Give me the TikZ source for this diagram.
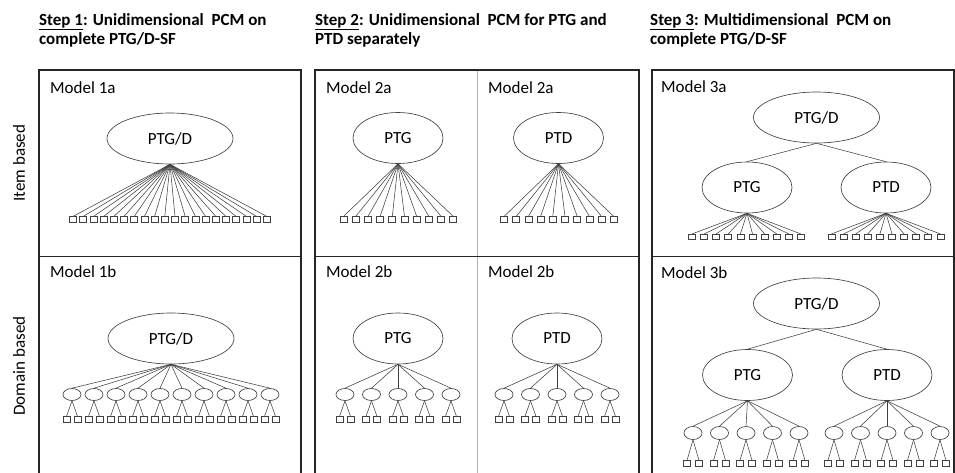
\documentclass[tikz,border=0pt]{standalone}
\usepackage{fontspec}
\setmainfont{Carlito}
\usetikzlibrary{shapes.geometric}
\newcommand\stepul[1]{\setbox0\hbox{#1}\rlap{\rule[-4.5pt]{\wd0}{1.2pt}}\box0}
\tikzset{
  frame/.style={draw=black!85, line width=1.4pt},
  divider/.style={draw=black!30, line width=0.8pt},
  big/.style={ellipse, draw=black!75, line width=0.65pt, inner sep=0pt, minimum width=126pt, minimum height=51pt, font=\fontsize{17}{20}\selectfont},
  mid/.style={big, minimum width=90pt},
  small/.style={ellipse, draw=black!75, line width=0.65pt, inner sep=0pt, minimum width=18pt, minimum height=12pt},
  item/.style={rectangle, draw=black!75, line width=0.65pt, inner sep=0pt, minimum width=7pt, minimum height=5.5pt},
  link/.style={draw=black!75, line width=0.55pt},
  header/.style={anchor=base west, align=left, inner sep=0pt, font=\fontsize{17}{18.7}\selectfont\bfseries},
  modellabel/.style={anchor=base west, inner sep=0pt, font=\fontsize{17}{20}\selectfont},
  rowlabel/.style={rotate=90, inner sep=0pt, font=\fontsize{17}{20}\selectfont},
}
\begin{document}
\begin{tikzpicture}[x=1pt,y=-1pt]
\useasboundingbox (0,0) rectangle (955,472);
% frames
\draw[divider] (477,70) -- (477,474);
\draw[frame] (39,474) -- (39,70) -- (301,70) -- (301,474);
\draw[frame] (39,256.5) -- (301,256.5);
\draw[frame] (315,474) -- (315,70) -- (639,70) -- (639,474);
\draw[frame] (315,256.5) -- (639,256.5);
\draw[frame] (652,474) -- (652,70) -- (954,70) -- (954,474);
\draw[frame] (652,256.5) -- (954,256.5);
% headers (base = baseline of the last line)
\node[header] (h1) at (39,44) {\stepul{Step 1}: Unidimensional\ \ PCM on\\complete PTG/D-SF};
\node[header] (h2) at (315,44) {\stepul{Step 2}: Unidimensional\ \ PCM for PTG and\\PTD separately};
\node[header] (h3) at (650,44) {\stepul{Step 3}: Multidimensional\ \ PCM on\\complete PTG/D-SF};
% row labels
\node[rowlabel] (r1) at (19,163) {Item based};
\node[rowlabel] (r2) at (19,366) {Domain based};
% model labels
\node[modellabel] (m1a) at (50,93) {Model 1a};
\node[modellabel] (m1b) at (50,277.5) {Model 1b};
\node[modellabel] (m2a) at (326,93) {Model 2a};
\node[modellabel] (m2a2) at (488,93) {Model 2a};
\node[modellabel] (m2b) at (326,277.5) {Model 2b};
\node[modellabel] (m2b2) at (488,277.5) {Model 2b};
\node[modellabel] (m3a) at (661,92.5) {Model 3a};
\node[modellabel] (m3b) at (661,278) {Model 3b};
% Model 1a
\node[big] (p1a) at (170,138.5) {PTG/D};
\foreach \i in {0,...,19} {
  \node[item] (i1a\i) at ({73+10.2*\i},219.5) {};
  \draw[link] (p1a.south) -- (i1a\i.north);
}
% Model 1b
\node[big] (p1b) at (171,338.5) {PTG/D};
\foreach \i in {0,...,9} {
  \node[small] (d1b\i) at ({72+22*\i},394.5) {};
  \node[item] (i1bl\i) at ({72+22*\i-5.5},419.5) {};
  \node[item] (i1br\i) at ({72+22*\i+5.5},419.5) {};
  \draw[link] (p1b.south) -- (d1b\i.north);
  \draw[link] (d1b\i.south) -- (i1bl\i.north);
  \draw[link] (d1b\i.south) -- (i1br\i.north);
}
% Model 2a
\node[mid] (g2a) at (398,138) {PTG};
\node[mid] (t2a) at (558.5,138) {PTD};
\foreach \i in {0,...,9} {
  \node[item] (ig2a\i) at ({343.5+12.2*\i},219.5) {};
  \node[item] (it2a\i) at ({504+12.2*\i},219.5) {};
  \draw[link] (g2a.south) -- (ig2a\i.north);
  \draw[link] (t2a.south) -- (it2a\i.north);
}
% Model 2b
\node[mid] (g2b) at (398,338.5) {PTG};
\node[mid] (t2b) at (557,338.5) {PTD};
\foreach \i in {0,...,4} {
  \node[small] (dg2b\i) at ({345+26.5*\i},394.5) {};
  \node[small] (dt2b\i) at ({504+26.5*\i},394.5) {};
  \node[item] (igl2b\i) at ({345+26.5*\i-5.5},419.5) {};
  \node[item] (igr2b\i) at ({345+26.5*\i+5.5},419.5) {};
  \node[item] (itl2b\i) at ({504+26.5*\i-5.5},419.5) {};
  \node[item] (itr2b\i) at ({504+26.5*\i+5.5},419.5) {};
  \draw[link] (g2b.south) -- (dg2b\i.north);
  \draw[link] (t2b.south) -- (dt2b\i.north);
  \draw[link] (dg2b\i.south) -- (igl2b\i.north);
  \draw[link] (dg2b\i.south) -- (igr2b\i.north);
  \draw[link] (dt2b\i.south) -- (itl2b\i.north);
  \draw[link] (dt2b\i.south) -- (itr2b\i.north);
}
% Model 3a
\node[big] (p3a) at (816.5,117.5) {PTG/D};
\node[mid] (g3a) at (747,187.5) {PTG};
\node[mid] (t3a) at (886,187.5) {PTD};
\draw[link] (p3a.south) -- (g3a.north);
\draw[link] (p3a.south) -- (t3a.north);
\foreach \i in {0,...,9} {
  \node[item] (ig3a\i) at ({692+12.1*\i},237) {};
  \node[item] (it3a\i) at ({831.5+12.1*\i},237) {};
  \draw[link] (g3a.south) -- (ig3a\i.north);
  \draw[link] (t3a.south) -- (it3a\i.north);
}
% Model 3b
\node[big] (p3b) at (816.5,303.5) {PTG/D};
\node[mid] (g3b) at (747.5,375) {PTG};
\node[mid] (t3b) at (887,375) {PTD};
\draw[link] (p3b.south) -- (g3b.north);
\draw[link] (p3b.south) -- (t3b.north);
\foreach \i in {0,...,4} {
  \node[small, minimum height=13pt] (dg3b\i) at ({693+26.5*\i},433) {};
  \node[small, minimum height=13pt] (dt3b\i) at ({834+26.5*\i},433) {};
  \node[item] (igl3b\i) at ({693+26.5*\i-6},463.5) {};
  \node[item] (igr3b\i) at ({693+26.5*\i+6},463.5) {};
  \node[item] (itl3b\i) at ({834+26.5*\i-6},463.5) {};
  \node[item] (itr3b\i) at ({834+26.5*\i+6},463.5) {};
  \draw[link] (g3b.south) -- (dg3b\i.north);
  \draw[link] (t3b.south) -- (dt3b\i.north);
  \draw[link] (dg3b\i.south) -- (igl3b\i.north);
  \draw[link] (dg3b\i.south) -- (igr3b\i.north);
  \draw[link] (dt3b\i.south) -- (itl3b\i.north);
  \draw[link] (dt3b\i.south) -- (itr3b\i.north);
}
\end{tikzpicture}
\end{document}
